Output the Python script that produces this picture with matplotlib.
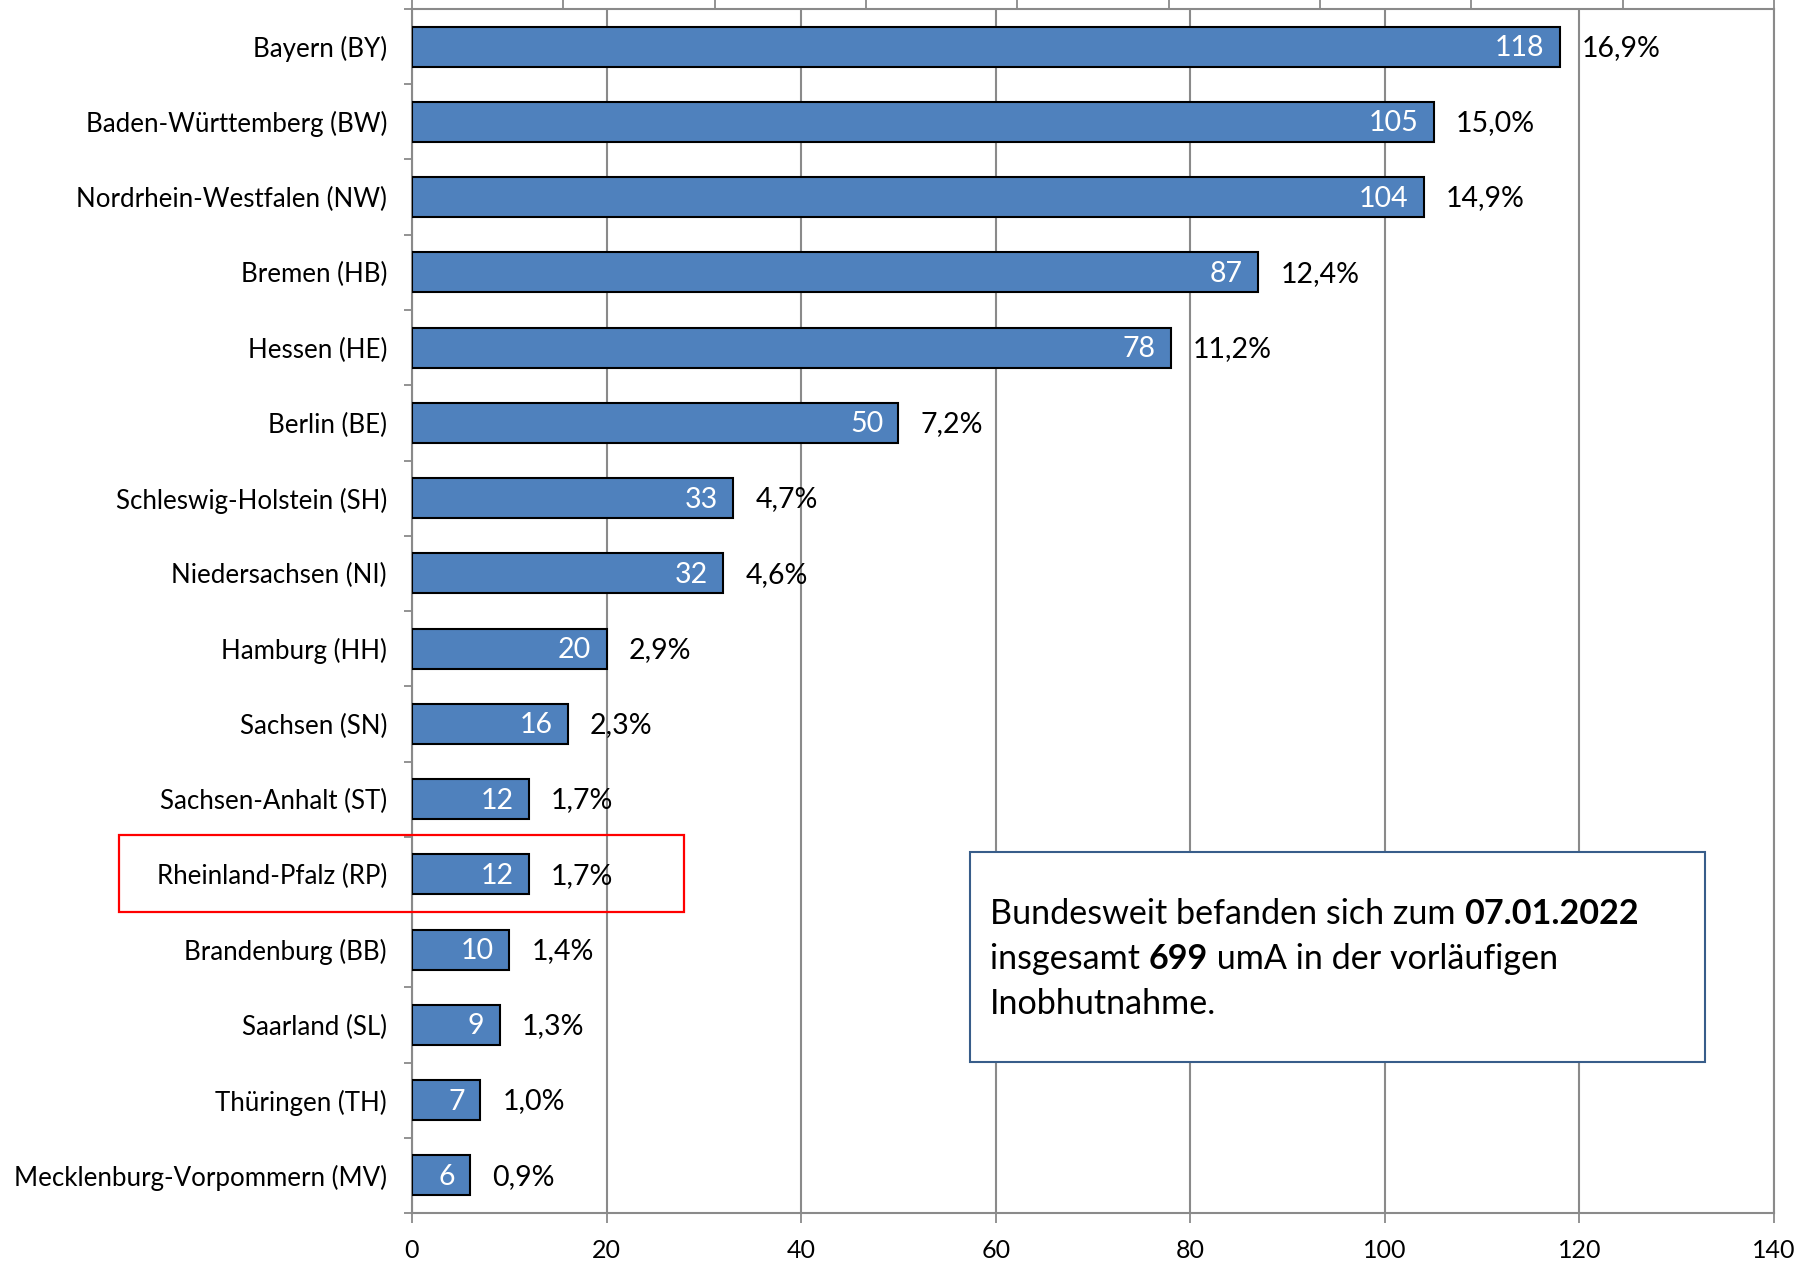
import numpy as np
import matplotlib
matplotlib.use("Agg")
import matplotlib.pyplot as plt
import matplotlib.transforms as mtransforms
from matplotlib.patches import Rectangle

plt.rcParams['font.family'] = ['Lato', 'DejaVu Sans']

# data
states = ["Bayern (BY)", "Baden-Württemberg (BW)", "Nordrhein-Westfalen (NW)",
          "Bremen (HB)", "Hessen (HE)", "Berlin (BE)", "Schleswig-Holstein (SH)",
          "Niedersachsen (NI)", "Hamburg (HH)", "Sachsen (SN)", "Sachsen-Anhalt (ST)",
          "Rheinland-Pfalz (RP)", "Brandenburg (BB)", "Saarland (SL)",
          "Thüringen (TH)", "Mecklenburg-Vorpommern (MV)"]
counts = [118, 105, 104, 87, 78, 50, 33, 32, 20, 16, 12, 12, 10, 9, 7, 6]
shares = ["16,9%", "15,0%", "14,9%", "12,4%", "11,2%", "7,2%", "4,7%", "4,6%",
          "2,9%", "2,3%", "1,7%", "1,7%", "1,4%", "1,3%", "1,0%", "0,9%"]
x_ticks = [0, 20, 40, 60, 80, 100, 120, 140]
total = 699
date = "07.01.2022"
highlight = "Rheinland-Pfalz (RP)"

grey = '#8a8a8a'
blue = '#4F81BD'

fig = plt.figure(figsize=(18.06, 12.67), dpi=100)
ax = fig.add_axes([0.2281, 0.0426, 0.7542, 0.9503])

y = np.arange(len(states))
ax.barh(y, counts, height=0.53, color=blue, edgecolor='black', linewidth=1.5, zorder=3)

ax.set_xlim(0, 140)
ax.set_ylim(len(states) - 0.5, -0.5)
ax.set_xticks(x_ticks)
ax.set_yticks(y)
ax.set_yticklabels(states, fontsize=18.6)
ax.set_yticks(np.arange(-0.5, len(states), 1), minor=True)
ax.tick_params(axis='y', which='major', length=0, pad=18)
ax.tick_params(axis='y', which='minor', length=6, width=1.3, color=grey)
ax.tick_params(axis='x', length=7, width=1.3, color=grey, pad=12, labelsize=18)
ax.grid(axis='x', color=grey, linewidth=1.5)
ax.set_axisbelow(True)
for s in ax.spines.values():
    s.set_color(grey)
    s.set_linewidth(1.5)

# secondary share axis on top (no labels)
top = ax.twiny()
top.set_xlim(0, 0.18)
top.set_xticks(np.arange(0, 0.181, 0.02))
top.tick_params(axis='x', length=7, width=1.3, color=grey, labeltop=False)
for s in top.spines.values():
    s.set_visible(False)

for i, (c, p) in enumerate(zip(counts, shares)):
    ax.annotate(str(c), (c, i), xytext=(-11, -1), textcoords='offset points',
                ha='right', va='center', color='white', fontsize=20.5, zorder=4)
    ax.annotate(p, (c, i), xytext=(16, -1), textcoords='offset points',
                ha='left', va='center', color='black', fontsize=20.5, zorder=4)

# red frame around highlighted state
k = states.index(highlight)
trans = mtransforms.blended_transform_factory(ax.transAxes, ax.transData)
ax.add_patch(Rectangle((-0.215, k - 0.525), 0.415, 1.025, transform=trans,
                       fill=False, edgecolor='#FF0000', linewidth=1.6,
                       clip_on=False, zorder=5))

# info box
ax.add_patch(Rectangle((57.4, 10.7), 75.5, 2.79, facecolor='white',
                       edgecolor='#385D8A', linewidth=1.5, zorder=5))
fs = 24.6
t1 = ax.text(59.4, 11.52, "Bundesweit befanden sich zum ", fontsize=fs, va='center', zorder=6)
ax.annotate(date, xy=(1, 0), xycoords=t1, va='bottom', fontsize=fs,
            fontweight='bold', zorder=6)
t2 = ax.text(59.4, 12.12, "insgesamt ", fontsize=fs, va='center', zorder=6)
t3 = ax.annotate(str(total), xy=(1, 0), xycoords=t2, va='bottom', fontsize=fs,
                 fontweight='bold', zorder=6)
ax.annotate(" umA in der vorläufigen", xy=(1, 0), xycoords=t3, va='bottom',
            fontsize=fs, zorder=6)
ax.text(59.4, 12.72, "Inobhutnahme.", fontsize=fs, va='center', zorder=6)

fig.savefig("out.png", dpi=100)
